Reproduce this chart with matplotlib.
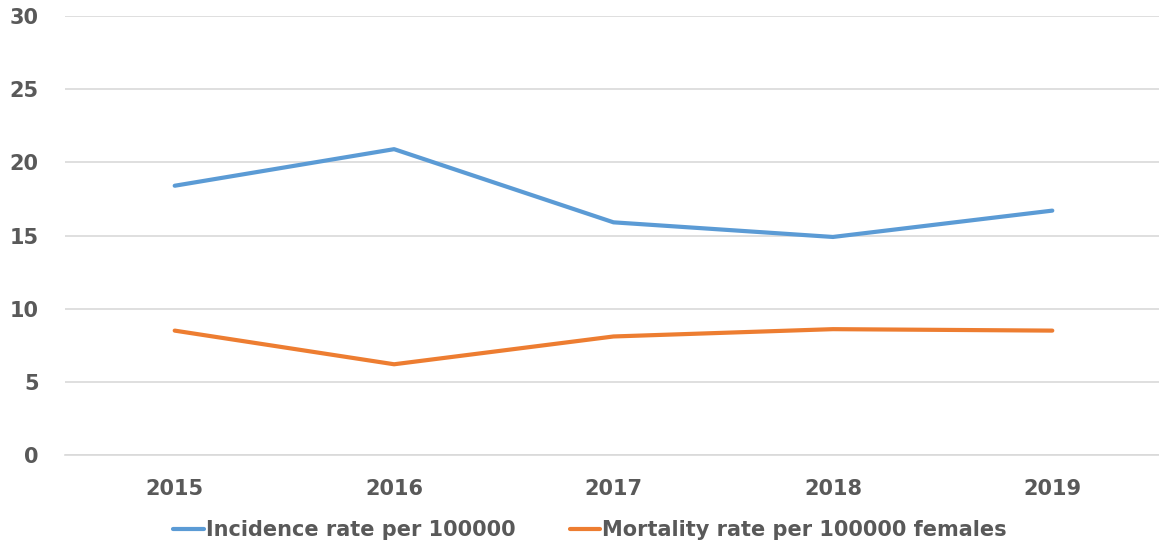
import matplotlib
matplotlib.use("Agg")
import matplotlib.pyplot as plt

years = ["2015", "2016", "2017", "2018", "2019"]
incidence = [18.4, 20.9, 15.9, 14.9, 16.7]
mortality = [8.5, 6.2, 8.1, 8.6, 8.5]
y_ticks = [0, 5, 10, 15, 20, 25, 30]

BLUE = "#5B9BD5"
ORANGE = "#ED7D31"
GREY = "#595959"

fig = plt.figure(figsize=(11.59, 5.44), dpi=100)
ax = fig.add_axes([65 / 1159, 1 - 455 / 544, 1097 / 1159, 439 / 544])

x = list(range(len(years)))
ax.plot(x, incidence, color=BLUE, lw=3, solid_capstyle="round", label="Incidence rate per 100000")
ax.plot(x, mortality, color=ORANGE, lw=3, solid_capstyle="round", label="Mortality rate per 100000 females")

ax.set_xlim(-0.5, len(years) - 0.5)
ax.set_ylim(0, 30)
ax.set_yticks(y_ticks)
ax.set_xticks(x)
ax.set_xticklabels(years)
ax.yaxis.grid(True, color="#D9D9D9", lw=1.2)
ax.set_axisbelow(True)
for s in ax.spines.values():
    s.set_visible(False)
ax.spines["bottom"].set_visible(True)
ax.spines["bottom"].set_color("#D9D9D9")
ax.spines["bottom"].set_linewidth(1.2)
ax.tick_params(length=0, labelsize=15, colors=GREY)
ax.tick_params(axis="y", pad=19)
ax.tick_params(axis="x", pad=17)
for t in ax.get_xticklabels() + ax.get_yticklabels():
    t.set_fontweight("bold")

leg = fig.legend(loc="center", bbox_to_anchor=(590 / 1159, 14 / 544), ncol=2, frameon=False,
                 handlelength=1.45, handletextpad=0.1, columnspacing=2.6,
                 prop={"weight": "bold", "size": 15})
for t in leg.get_texts():
    t.set_color(GREY)

fig.savefig("out.png", dpi=100)
